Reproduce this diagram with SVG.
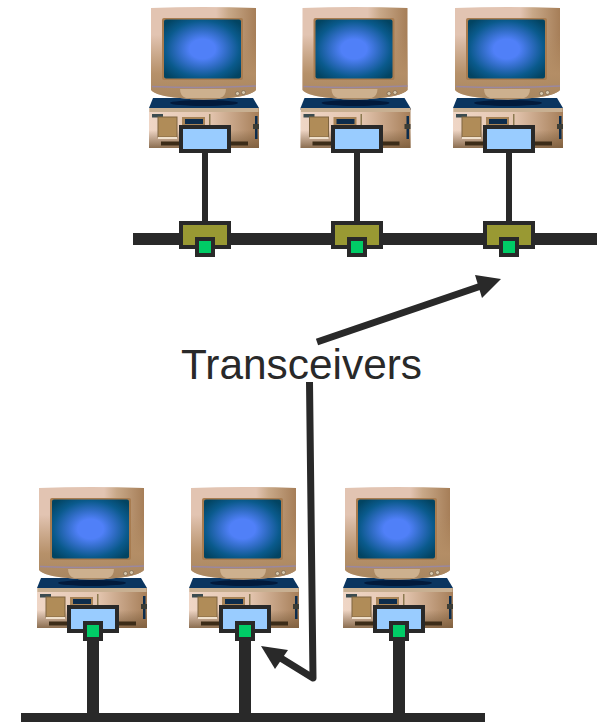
<svg xmlns="http://www.w3.org/2000/svg" xmlns:xlink="http://www.w3.org/1999/xlink" width="600" height="722" viewBox="0 0 600 722">
<style>
.wire{stroke:#292929;fill:none}
.bus{stroke-width:12}
.stem{stroke-width:6}
.stem2{stroke-width:12}
.arrow{stroke-width:7;stroke-linejoin:round;stroke-linecap:butt}
.head{fill:#292929}
.nic{fill:#99ccff;stroke:#292929;stroke-width:4}
.tap{fill:#999933;stroke:#292929;stroke-width:4}
.port{fill:#00cc66;stroke:#292929;stroke-width:4}
.label{font-family:"Liberation Sans",Arial,sans-serif;font-size:42.4px;fill:#292929}
</style>
<defs>
<linearGradient id="mon" x1="0" y1="0" x2="1" y2="0">
<stop offset="0" stop-color="#e2c4b2"/><stop offset=".62" stop-color="#e2c4b2"/><stop offset=".74" stop-color="#c8a888"/><stop offset="1" stop-color="#a67e58"/>
</linearGradient>
<linearGradient id="monLow" x1="0" y1="0" x2="0" y2="1">
<stop offset="0" stop-color="#b08a60" stop-opacity="0"/><stop offset=".3" stop-color="#b08a60" stop-opacity="0"/><stop offset=".72" stop-color="#b48e66" stop-opacity=".95"/><stop offset="1" stop-color="#a88660"/>
</linearGradient>
<radialGradient id="scr" cx=".5" cy=".5" r=".64">
<stop offset="0" stop-color="#5080f8"/><stop offset=".26" stop-color="#5080f8"/><stop offset=".5" stop-color="#2f6cc4"/><stop offset=".75" stop-color="#0a5a8c"/><stop offset="1" stop-color="#024462"/>
</radialGradient>
<linearGradient id="case" x1="0" y1="0" x2="1" y2="0">
<stop offset="0" stop-color="#efd6c6"/><stop offset=".55" stop-color="#e4c6b0"/><stop offset="1" stop-color="#a67e58"/>
</linearGradient>
<linearGradient id="caseLow" x1="0" y1="0" x2="0" y2="1">
<stop offset="0" stop-color="#7a5c3c" stop-opacity="0"/><stop offset=".55" stop-color="#7a5c3c" stop-opacity="0"/><stop offset="1" stop-color="#7a5c3c" stop-opacity=".85"/>
</linearGradient>
<g id="pc">
<path d="M153 98H253L259 108V110H149V108Z" fill="#0a3560"/>
<ellipse cx="204" cy="103" rx="34" ry="3" fill="#021a3c"/>
<path d="M151 8Q203 6 256 8V90Q250 96 228 98Q203 101 180 98Q156 96 151 90Z" fill="url(#mon)"/>
<path d="M151 8Q203 6 256 8V90Q250 96 228 98Q203 101 180 98Q156 96 151 90Z" fill="url(#monLow)"/>
<rect x="162" y="18" width="81" height="62" rx="2" fill="#a87c50"/>
<rect x="164" y="19.500" width="77" height="59" rx="2" fill="url(#scr)"/>
<path d="M152 86.500Q203 88.500 256 86" stroke="#9a88a0" stroke-width="1.500" fill="none"/>
<path d="M180 89H226Q226 96 220 98H186Q180 96 180 89Z" fill="#cdb08e"/>
<circle cx="237.500" cy="93.500" r="2" fill="#d8c8ac" stroke="#6e5a44" stroke-width=".6"/>
<circle cx="243.500" cy="92.500" r="2" fill="#d8c8ac" stroke="#6e5a44" stroke-width=".6"/>
<rect x="149" y="108" width="110" height="40" fill="url(#case)"/>
<rect x="149" y="108" width="110" height="40" fill="url(#caseLow)"/>
<rect x="149.500" y="108" width="109" height="4" fill="#c8b092"/>
<rect x="152" y="114" width="11" height="3.500" fill="#3c4c50"/>
<rect x="158" y="117" width="19" height="20" fill="#b08c58" stroke="#7e6440" stroke-width="1"/>
<rect x="158" y="137" width="19" height="2" fill="#f0e0cc"/>
<rect x="182" y="117" width="23" height="8" fill="#a88458"/>
<rect x="185" y="119" width="18" height="5" fill="#0c2c4c"/>
<rect x="209" y="114" width="1.500" height="11" fill="#8c7a50"/>
<rect x="161" y="141.500" width="87" height="4" fill="#3c2c18"/>
<rect x="255" y="116" width="2.500" height="23" fill="#0c2c4c"/>
<rect x="253" y="124" width="6" height="5" fill="#3c3c34"/>
</g>
<g id="nicBox"><rect class="nic" x="181" y="127" width="48" height="24"/></g>
</defs>

<g id="connectors">
<path class="wire bus" d="M133 239H597"/>
<path class="wire stem" d="M205 151V223M357 151V223M509 151V223"/>
<path class="wire bus" d="M21 719H485"/>
<path class="wire stem2" d="M93 640V714M245 640V714M399 640V714"/>
<path class="wire arrow" d="M317 342L484 285"/>
<path class="head" d="M501 279L475 275L482 298Z"/>
<path class="wire arrow" d="M309.500 382L313 678L279 657"/>
<path class="head" d="M261 646L288 650L275 669Z"/>
</g>

<g id="pc-top-1"><use href="#pc"/><use href="#nicBox"/></g>
<g id="pc-top-2" transform="translate(152 0)"><use href="#pc" x="-0.5"/><use href="#nicBox"/></g>
<g id="pc-top-3" transform="translate(304 0)"><use href="#pc"/><use href="#nicBox"/></g>

<g id="tap-1"><rect class="tap" x="181" y="223" width="48" height="24"/><rect class="port" x="197" y="239" width="16" height="16"/></g>
<g id="tap-2"><rect class="tap" x="333" y="223" width="48" height="24"/><rect class="port" x="349" y="239" width="16" height="16"/></g>
<g id="tap-3"><rect class="tap" x="485" y="223" width="48" height="24"/><rect class="port" x="501" y="239" width="16" height="16"/></g>

<g id="pc-bottom-1" transform="translate(-112 480)"><use href="#pc"/><use href="#nicBox"/><rect class="port" x="197" y="143" width="16" height="16"/></g>
<g id="pc-bottom-2" transform="translate(40 480)"><use href="#pc"/><use href="#nicBox"/><rect class="port" x="197" y="143" width="16" height="16"/></g>
<g id="pc-bottom-3" transform="translate(194 480)"><use href="#pc"/><use href="#nicBox"/><rect class="port" x="197" y="143" width="16" height="16"/></g>

<g id="label-transceivers"><text class="label" x="181" y="379">Transceivers</text></g>
</svg>
